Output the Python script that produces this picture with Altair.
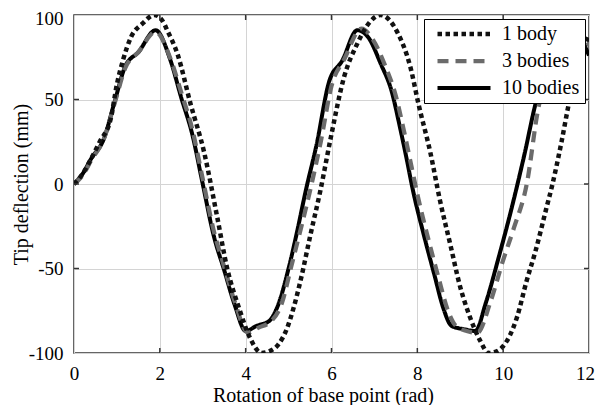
import altair as alt
import pandas as pd

series_names = ["1 body", "3 bodies", "10 bodies"]

x_1body = [0, 0.2, 0.4, 0.6, 0.86, 1.0, 1.15, 1.33, 1.6, 1.87, 2.05, 2.18, 2.41, 2.72, 3.03,
           3.34, 3.57, 3.84, 4.1, 4.37, 4.55, 4.76, 4.97, 5.12, 5.28, 5.51, 5.74, 5.98, 6.29,
           6.6, 6.9, 7.14, 7.35, 7.53, 7.84, 8.03, 8.3, 8.53, 8.77, 9.0, 9.23, 9.47, 9.66,
           9.85, 10.0, 10.32, 10.55, 10.75, 11.0, 11.15, 11.36, 11.55, 11.8, 12.0]
y_1body = [0, 6, 15, 25, 39, 59, 74, 87, 95, 100, 97, 90.5, 77, 47, 19,
           -20, -50, -73, -91, -100, -99, -95, -85, -73, -57, -30, -4, 27, 63,
           83, 96, 100, 97, 90, 69, 47, 19, -10, -36, -61, -79, -93, -100,
           -99, -96, -79, -57, -40, -15, 0, 25, 50, 75, 88]

x_3bodies = [0, 0.2, 0.4, 0.7, 0.95, 1.2, 1.5, 1.9, 2.25, 2.5, 2.75, 3.0, 3.25, 3.5, 3.75,
             4.05, 4.3, 4.6, 4.85, 5.05, 5.3, 5.5, 5.75, 6.0, 6.3, 6.7, 6.95, 7.25, 7.5,
             7.7, 7.85, 8.0, 8.25, 8.5, 8.7, 8.9, 9.15, 9.4, 9.7, 10.0, 10.25, 10.55,
             10.82, 11.1, 11.35, 11.55, 11.85, 12.0]
y_3bodies = [0, 5, 14, 27, 48, 69, 78, 90, 74, 54, 33, 3, -27, -49, -70,
             -88, -85, -81, -70, -50, -25, -4, 25, 58, 74, 92, 86, 70, 52,
             30, 12, -6, -32, -56, -74, -84, -87, -88, -70, -45, -26, 0,
             45, 68, 86, 92, 86, 82]

x_10bodies = [0, 0.2, 0.4, 0.7, 0.95, 1.2, 1.5, 1.9, 2.25, 2.5, 2.75, 3.0, 3.25, 3.5, 3.75,
              4.0, 4.25, 4.55, 4.75, 5.0, 5.2, 5.4, 5.65, 5.95, 6.25, 6.6, 6.85, 7.15, 7.4,
              7.6, 7.75, 7.9, 8.15, 8.4, 8.6, 8.8, 9.1, 9.35, 9.6, 9.9, 10.2, 10.5, 10.75,
              11.0, 11.35, 11.7, 11.85, 12.0]
y_10bodies = [0, 6, 15, 27, 49, 70, 78, 91, 73, 51, 30, 0, -30, -51, -72,
              -87, -84, -81, -72, -50, -28, -4, 23, 61, 73, 91, 87, 71, 55,
              33, 15, -4, -30, -54, -73, -84, -86, -87, -70, -43, -14, 18, 47,
              68, 91, 88, 84, 76]

x_ticks = [0, 2, 4, 6, 8, 10, 12]
y_ticks = [-100, -50, 0, 50, 100]

# draw order: 10 bodies underneath, then 3 bodies, then 1 body
rows = []
for name, xs, ys in [("10 bodies", x_10bodies, y_10bodies),
                     ("3 bodies", x_3bodies, y_3bodies),
                     ("1 body", x_1body, y_1body)]:
    for i, (xv, yv) in enumerate(zip(xs, ys)):
        rows.append({"series": name, "x": xv, "y": yv, "order": i})
df = pd.DataFrame(rows)

W, H = 515, 338
FONT = "Liberation Serif"
FRAME = "#333333"

xscale = alt.Scale(domain=[0, 12], nice=False, zero=False)
yscale = alt.Scale(domain=[-100, 100], nice=False, zero=False)

x_axis = alt.Axis(
    values=x_ticks, title="Rotation of base point (rad)", grid=True, ticks=False,
    domain=False, labelPadding=26, labelBaseline="alphabetic", labelFlush=False,
    labelOffset={"condition": {"test": "datum.value == 12", "value": -4}, "value": 0},
    titleX=249, titleY=48, titleBaseline="alphabetic", titleAlign="center",
    titleColor="black", labelColor="black")
y_axis = alt.Axis(
    values=y_ticks, title="Tip deflection (mm)", grid=True, ticks=False,
    domain=False, labelPadding=11, labelFlush=False,
    labelOffset={"condition": {"test": "datum.value == 100", "value": 3}, "value": 0},
    labelExpr="replace(datum.label, '\u2212', '-')",
    titleX=-53, titleY=H / 2, titleAngle=-90, titleBaseline="middle",
    titleAlign="center", titleColor="black", labelColor="black")

legend = alt.Legend(
    title=None, orient="none", legendX=350, legendY=4,
    symbolType="stroke", symbolSize=2809, clipHeight=20, rowPadding=7,
    padding=5, symbolOffset=6, labelOffset=9,
    labelFont=FONT, labelFontSize=20, labelColor="black",
    strokeColor="black", fillColor="white",
)

lines = alt.Chart(df).mark_line(clip=True, strokeCap="butt", strokeJoin="round",
                                interpolate="monotone").encode(
    x=alt.X("x:Q", scale=xscale, axis=x_axis),
    y=alt.Y("y:Q", scale=yscale, axis=y_axis),
    color=alt.Color("series:N", scale=alt.Scale(domain=series_names,
                    range=["#111111", "#6b6b6b", "#000000"]), legend=legend),
    strokeDash=alt.StrokeDash("series:N", scale=alt.Scale(domain=series_names,
                    range=[[4.5, 3.5], [11, 7], [1, 0]]), legend=legend),
    strokeWidth=alt.StrokeWidth("series:N", scale=alt.Scale(domain=series_names,
                    range=[4.5, 4, 3.5]), legend=legend),
    order="order:Q",
)

xt = pd.DataFrame({"x": x_ticks[1:-1]})
yt = pd.DataFrame({"y": y_ticks[1:-1]})
tick_style = dict(color=FRAME, strokeWidth=1.5)
bottom_ticks = alt.Chart(xt).mark_rule(**tick_style).encode(
    x=alt.X("x:Q", scale=xscale, axis=x_axis), y=alt.value(H), y2=alt.value(H - 5))
top_ticks = alt.Chart(xt).mark_rule(**tick_style).encode(
    x=alt.X("x:Q", scale=xscale, axis=x_axis), y=alt.value(0), y2=alt.value(5))
left_ticks = alt.Chart(yt).mark_rule(**tick_style).encode(
    y=alt.Y("y:Q", scale=yscale, axis=y_axis), x=alt.value(0), x2=alt.value(5))
right_ticks = alt.Chart(yt).mark_rule(**tick_style).encode(
    y=alt.Y("y:Q", scale=yscale, axis=y_axis), x=alt.value(W), x2=alt.value(W - 5))

chart = alt.layer(lines, bottom_ticks, top_ticks, left_ticks, right_ticks).properties(
    width=W, height=H,
    autosize=alt.AutoSizeParams(type="none"),
    padding={"left": 66, "top": 7, "right": 6, "bottom": 52},
).configure_view(
    stroke=FRAME, strokeWidth=1.5
).configure_axis(
    labelFont=FONT, labelFontSize=19, labelColor="black",
    titleFont=FONT, titleFontSize=20, titleColor="black", titleFontWeight="normal",
    gridColor="#d4d4d4", gridWidth=1,
)

chart.save("out.html", embed_options={"renderer": "svg", "actions": False})
